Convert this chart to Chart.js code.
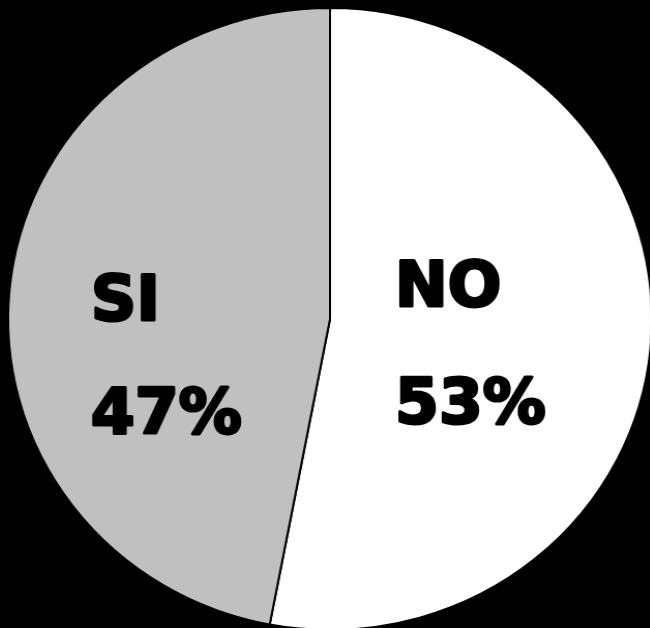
<!DOCTYPE html>
<html>
<head>
<meta charset="utf-8">
<script src="https://cdn.jsdelivr.net/npm/chart.js@4/dist/chart.umd.min.js"></script>
<style>
  html, body { margin: 0; padding: 0; background: #000; overflow: hidden; width: 650px; height: 628px; }
  #wrap { position: absolute; left: 0; top: 0; width: 650px; height: 640px; }
  /* pie is drawn a little wider than tall */
  #pie { display: block; transform: scaleX(1.035); transform-origin: 330px 319px; }
</style>
</head>
<body>
<div id="wrap"><canvas id="pie" width="650" height="640"></canvas></div>
<script>
const categories = ['NO', 'SI'];
const shares = [53, 47];
const sliceColors = ['#FFFFFF', '#C0C0C0'];

const STRETCH_X = 1.035;

// label placement (page pixels): left edge, baseline of the name and of the percentage
const labelSpots = [
  { x: 395, nameY: 306, pctY: 423 },
  { x: 91,  nameY: 320, pctY: 433 }
];

const sliceLabels = {
  id: 'sliceLabels',
  afterDraw(chart) {
    const ctx = chart.ctx;
    const arc = chart.getDatasetMeta(0).data[0];
    const cx = arc.x;
    ctx.save();
    ctx.font = 'bold 63px "DejaVu Sans", Verdana, sans-serif';
    ctx.fillStyle = '#000';
    ctx.strokeStyle = '#000';
    ctx.lineWidth = 3;
    ctx.lineJoin = 'round';
    ctx.textAlign = 'left';
    ctx.textBaseline = 'alphabetic';
    ctx.translate(cx, 0);
    ctx.scale(1 / STRETCH_X, 1);
    categories.forEach((name, i) => {
      const s = labelSpots[i];
      const pct = shares[i] + '%';
      ctx.strokeText(name, s.x - cx, s.nameY);
      ctx.fillText(name, s.x - cx, s.nameY);
      ctx.strokeText(pct, s.x - cx, s.pctY);
      ctx.fillText(pct, s.x - cx, s.pctY);
    });
    ctx.restore();
  }
};

new Chart(document.getElementById('pie'), {
  type: 'pie',
  data: {
    labels: categories,
    datasets: [{
      data: shares,
      backgroundColor: sliceColors,
      borderColor: '#000',
      borderWidth: 2
    }]
  },
  options: {
    responsive: false,
    animation: false,
    layout: { padding: { left: 18, right: 8, top: 7, bottom: 9 } },
    plugins: {
      legend: { display: false },
      tooltip: { enabled: false }
    }
  },
  plugins: [sliceLabels]
});
</script>
</body>
</html>
